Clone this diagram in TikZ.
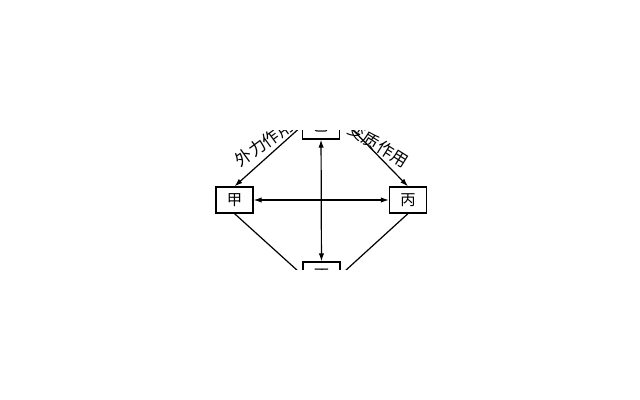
\documentclass[tikz,border=0pt]{standalone}
\usepackage{fontspec}
\newfontfamily\cjk{Noto Sans CJK SC}
\usetikzlibrary{arrows.meta}
\tikzset{cell/.style={rectangle, draw, line width=0.9pt, minimum width=27.75pt,
   minimum height=19.5pt, inner sep=0pt, font=\cjk\fontsize{11.5}{12}\selectfont}}
\tikzset{lbl/.style={font=\cjk\fontsize{12.5}{14}\selectfont, inner sep=0pt}}
\tikzset{link/.style={line width=0.9pt}}
\tikzset{tip/.style={-{Latex[length=6pt,width=4pt]}}}
\tikzset{tips/.style={{Latex[length=6pt,width=4pt]}-{Latex[length=6pt,width=4pt]}}}
\begin{document}
\begin{tikzpicture}[x=0.75pt,y=-0.75pt]

    \useasboundingbox (0,0) rectangle (640,400);
    \fill[white] (0,0) rectangle (640,400);
    \clip (200,130) rectangle (440,269);

    \node[cell] (yi)   at (321,126)   {乙};
    \node[cell] (jia)  at (234.5,200) {甲};
    \node[cell] (bing) at (408,200)   {丙};
    \node[cell] (ding) at (321.5,275) {丁};

    \draw[link, tip] (yi.west) -- (jia.north);
    \draw[link, tip] ([xshift=6.75pt]yi.east) -- (bing.north);
    \draw[link] (jia.south) -- (ding.west);
    \draw[link] (bing.south) -- (ding.east);
    \draw[link, tips] (jia) -- (bing);
    \draw[link, tips] (yi) -- (ding);

    \node[lbl, rotate=36]  (waili)   at (264,143) {外力作用};
    \node[lbl, rotate=-32] (bianzhi) at (378.5,145) {变质作用};

  \end{tikzpicture}
\end{document}
